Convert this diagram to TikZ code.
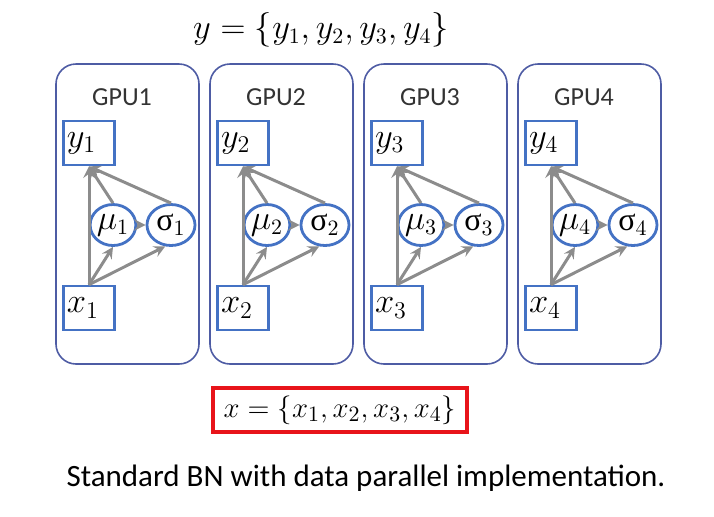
\documentclass[tikz,border=0pt]{standalone}
\usepackage{fontspec}
\setmainfont{Carlito}
\newfontfamily\greekfont{Liberation Serif}
\usetikzlibrary{shapes.geometric}
\definecolor{gpuline}{RGB}{78,92,164}
\definecolor{varblue}{RGB}{68,114,196}
\definecolor{arrowgray}{RGB}{140,140,140}
\definecolor{boxred}{RGB}{232,20,26}
\tikzset{>=stealth}
\tikzset{
  gpubox/.style={draw=gpuline, line width=0.8pt, rounded corners=10pt},
  gpulabel/.style={font=\fontsize{13}{13}\selectfont, text=black!80},
  varbox/.style={draw=varblue, line width=1.4pt, minimum width=25.5pt, minimum height=22pt,
    inner sep=1pt, text width=22pt, align=left, font=\fontsize{17}{17}\selectfont},
  stat/.style={ellipse, draw=varblue, line width=1.4pt, minimum height=20.5pt, inner sep=0pt,
    font=\fontsize{16}{16}\selectfont},
  flow/.style={->, draw=arrowgray, line width=1.5pt}
}

\begin{document}
\begin{tikzpicture}[x=0.5pt, y=-0.5pt]
    \useasboundingbox (0,0) rectangle (714,516);
    \node[font=\fontsize{16}{16}\selectfont] (yall) at (321,30) {$y=\{y_1,y_2,y_3,y_4\}$};
    \foreach \i/\L in {1/56, 2/210, 3/364, 4/518} {
        \draw[gpubox] (\L,64) rectangle (\L+143,364);
        \node[gpulabel] (gpu\i) at (\L+66,97) {GPU\i};
        \node[varbox] (y\i) at (\L+33,143) {$y_\i$};
        \node[varbox] (x\i) at (\L+33,308) {$x_\i$};
        \node[stat, minimum width=21pt] (mu\i) at (\L+57,225) {$\mu_\i$};
        \node[stat, minimum width=24pt] (sigma\i) at (\L+115,225) {{\greekfont σ}$_\i$};
        \draw[flow] (x\i.north) -- (y\i.south);
        \draw[flow] (x\i.north) -- (mu\i.south);
        \draw[flow] (x\i.north) -- (sigma\i.-105);
        \draw[flow] (mu\i.north) -- (y\i.south);
        \draw[flow] (sigma\i.north) -- (y\i.south);
        \draw[flow] (mu\i) -- (sigma\i);
    }
    \node[draw=boxred, line width=2pt, minimum width=127pt, minimum height=22pt,
        font=\fontsize{15.5}{15.5}\selectfont] (xall) at (340,410) {$x=\{x_1,x_2,x_3,x_4\}$};
    \node[font=\fontsize{15.5}{15.5}\selectfont] (caption) at (366,478)
        {Standard BN with data parallel implementation.};
\end{tikzpicture}
\end{document}
